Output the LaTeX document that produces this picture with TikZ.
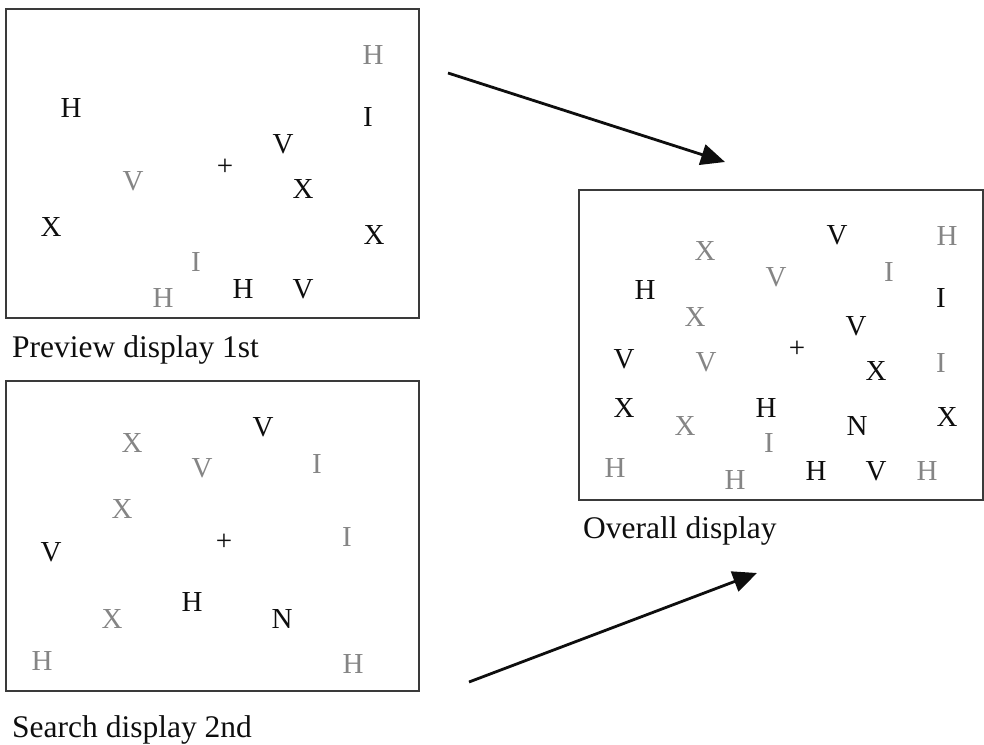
\documentclass[tikz,border=0pt]{standalone}
\usepackage{fontspec}
\setmainfont{Liberation Serif}
\usetikzlibrary{arrows.meta}

\definecolor{ink}{HTML}{0E0E0E}
\definecolor{dim}{HTML}{858585}
\definecolor{rim}{HTML}{3A3A3A}

\tikzset{
  panel/.style={draw=rim, line width=1.2pt, inner sep=0pt},
  glyph/.style={inner sep=0pt, font=\fontsize{29}{29}\selectfont},
  caption/.style={inner sep=0pt, anchor=base west, text=ink, font=\fontsize{31.5}{32}\selectfont},
  flow/.style={draw=ink, line width=2.8pt, -{Triangle[length=24pt,width=21pt]}}
}

\begin{document}
\begin{tikzpicture}[x=1pt, y=-1pt]
\useasboundingbox (0,0) rectangle (984,744);

% three display frames
\node[panel, minimum width=413pt, minimum height=309pt] (preview) at (212.5,163.5) {};
\node[panel, minimum width=413pt, minimum height=310pt] (search)  at (212.5,536) {};
\node[panel, minimum width=404pt, minimum height=310pt] (overall) at (781,345) {};

% first display
\foreach \x/\y/\c/\t [count=\k] in {
  373/55/dim/H, 71/108/ink/H, 368/117/ink/I, 283/144/ink/V, 225/167/ink/+,
  133/181/dim/V, 303/189/ink/X, 51/227/ink/X, 374/235/ink/X, 196/262/dim/I,
  163/298/dim/H, 243/289/ink/H, 303/289/ink/V}
  \node[glyph, text=\c] (p\k) at (\x,\y) {\t};

% second display
\foreach \x/\y/\c/\t [count=\k] in {
  132/443/dim/X, 263/427/ink/V, 202/468/dim/V, 317/464/dim/I, 122/509/dim/X,
  224/542/ink/+, 347/537/dim/I, 51/552/ink/V, 192/602/ink/H, 112/619/dim/X,
  282/619/ink/N, 42/661/dim/H, 353/664/dim/H}
  \node[glyph, text=\c] (s\k) at (\x,\y) {\t};

% combined display
\foreach \x/\y/\c/\t [count=\k] in {
  705/251/dim/X, 837/235/ink/V, 947/236/dim/H, 776/277/dim/V, 889/272/dim/I,
  645/290/ink/H, 941/298/ink/I, 695/317/dim/X, 856/326/ink/V, 624/359/ink/V,
  706/362/dim/V, 797/349/ink/+, 876/371/ink/X, 941/363/dim/I, 624/408/ink/X,
  766/408/ink/H, 685/426/dim/X, 857/426/ink/N, 947/417/ink/X, 769/443/dim/I,
  615/468/dim/H, 735/480/dim/H, 816/471/ink/H, 876/471/ink/V, 927/471/dim/H}
  \node[glyph, text=\c] (o\k) at (\x,\y) {\t};

% captions
\node[caption] (cap1) at (12,357) {Preview display 1st};
\node[caption] (cap2) at (12,737) {Search display 2nd};
\node[caption] (cap3) at (583,538) {Overall display};

% arrows into the combined display
\coordinate (a1s) at (448,73);
\coordinate (a1e) at (725,162);
\coordinate (a2s) at (469,682);
\coordinate (a2e) at (757,573);
\draw[flow] (a1s) -- (a1e);
\draw[flow] (a2s) -- (a2e);
\end{tikzpicture}
\end{document}
